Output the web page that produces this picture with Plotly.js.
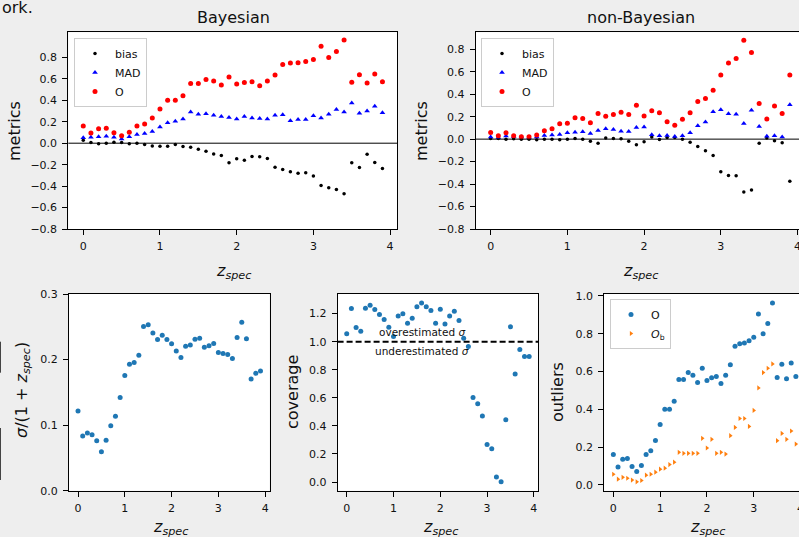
<!DOCTYPE html>
<html>
<head>
<meta charset="utf-8">
<script src="https://cdn.plot.ly/plotly-3.0.1.min.js"></script>
<style>
html,body{margin:0;padding:0;overflow:hidden;background:#eeeeee;}
#chart{width:810px;height:537px;}
</style>
</head>
<body>
<div id="chart"></div>
<script>
// ---- data ----
const zspec = [0.0,0.1,0.2,0.3,0.4,0.5,0.6,0.7,0.8,0.9,1.0,1.1,1.2,1.3,1.4,1.5,1.6,1.7,1.8,1.9,2.0,2.1,2.2,2.3,2.4,2.5,2.6,2.7,2.8,2.9,3.0,3.1,3.2,3.3,3.4,3.5,3.6,3.7,3.8,3.9];

const bayesBias = [0.028,0.006,-0.006,0.0,0.01,0.006,-0.006,0.0,-0.012,-0.025,-0.028,-0.028,-0.012,-0.031,-0.037,-0.056,-0.075,-0.10,-0.115,-0.183,-0.146,-0.158,-0.124,-0.127,-0.143,-0.224,-0.245,-0.267,-0.28,-0.276,-0.307,-0.394,-0.416,-0.432,-0.472,-0.183,-0.227,-0.102,-0.18,-0.236];
const bayesMAD = [0.05,0.055,0.06,0.065,0.055,0.04,0.06,0.08,0.09,0.11,0.15,0.19,0.205,0.225,0.29,0.27,0.275,0.26,0.25,0.24,0.225,0.25,0.235,0.23,0.225,0.26,0.265,0.21,0.22,0.22,0.255,0.235,0.27,0.315,0.29,0.375,0.28,0.30,0.345,0.285];
const bayesO = [0.16,0.095,0.135,0.14,0.097,0.07,0.103,0.16,0.18,0.235,0.32,0.40,0.40,0.443,0.557,0.557,0.595,0.58,0.542,0.617,0.552,0.567,0.573,0.536,0.58,0.636,0.734,0.747,0.751,0.762,0.781,0.904,0.80,0.854,0.962,0.568,0.638,0.561,0.645,0.574];

const nonBias = [0.006,0.006,0.0,0.003,0.0,0.0,-0.006,0.0,0.0,-0.006,0.0,0.006,0.0,-0.018,-0.036,0.009,0.006,0.003,-0.018,-0.05,-0.024,0.02,-0.003,0.015,0.015,0.0,-0.027,-0.065,-0.104,-0.145,-0.29,-0.323,-0.326,-0.471,-0.453,-0.036,0.01,-0.015,-0.033,-0.376];
const nonMAD = [0.02,0.015,0.027,0.024,0.018,0.015,0.02,0.033,0.036,0.041,0.056,0.062,0.065,0.05,0.077,0.092,0.086,0.071,0.068,0.104,0.107,0.039,0.03,0.033,0.024,0.03,0.056,0.119,0.152,0.244,0.261,0.226,0.222,0.14,0.256,0.113,0.025,0.03,0.019,0.307];
const nonO = [0.059,0.03,0.056,0.03,0.021,0.021,0.036,0.074,0.092,0.136,0.142,0.19,0.184,0.145,0.228,0.204,0.219,0.24,0.219,0.302,0.207,0.252,0.234,0.154,0.124,0.178,0.234,0.335,0.361,0.436,0.571,0.678,0.717,0.881,0.772,0.317,0.18,0.296,0.228,0.572];

const sigmaNorm = [0.1216,0.0835,0.088,0.0855,0.076,0.0595,0.077,0.099,0.1135,0.142,0.1756,0.193,0.1954,0.2066,0.2504,0.253,0.2407,0.2305,0.2372,0.2305,0.224,0.213,0.203,0.2204,0.2224,0.231,0.2326,0.2188,0.2209,0.2244,0.2107,0.2092,0.2076,0.2015,0.2336,0.257,0.2316,0.1705,0.179,0.1827];
const coverage = [1.056,1.236,1.101,1.075,1.238,1.26,1.229,1.193,1.158,1.103,1.037,1.184,1.2,1.132,1.167,1.25,1.276,1.25,1.222,1.132,1.231,1.127,1.184,1.217,1.151,1.025,0.966,0.603,0.558,0.47,0.268,0.237,0.036,0.002,0.444,1.106,0.769,0.944,0.894,0.894];
const outO = bayesO;
const outOb = [0.056,0.03,0.04,0.035,0.025,0.016,0.023,0.051,0.056,0.067,0.083,0.088,0.107,0.12,0.172,0.167,0.167,0.167,0.167,0.246,0.195,0.241,0.167,0.172,0.163,0.26,0.304,0.351,0.351,0.309,0.394,0.513,0.594,0.617,0.64,0.234,0.272,0.241,0.285,0.216];

const topTitles = ['Bayesian', 'non-Bayesian'];
const metricNames = ['bias', 'MAD', 'O'];
const outlierNames = ['O', '<i>O</i><sub>b</sub>'];
const metricTicks = [-0.8,-0.6,-0.4,-0.2,0.0,0.2,0.4,0.6,0.8];

// ---- layout helpers ----
const W = 810, H = 537;
const px = v => v / W;
const py = v => 1 - v / H;
const FONT = 'DejaVu Sans, sans-serif';
const TXT = '#111111';

function xax(l, r, anchor) {
  return {domain:[px(l), px(r)], anchor:anchor, range:[-0.195, 4.095], dtick:1, tick0:0,
    tickformat:'d', ticks:'outside', ticklen:5, tickwidth:1, tickcolor:'#000',
    showline:true, mirror:true, linecolor:'#000', linewidth:1, showgrid:false, zeroline:false,
    tickfont:{size:11, color:TXT, family:FONT}, ticklabelstandoff:2};
}
function yax(t, b, anchor, range, dtick, tickvals) {
  const a = {domain:[py(b), py(t)], anchor:anchor, range:range, dtick:dtick, tick0:0,
    tickformat:'.1f', ticks:'outside', ticklen:5, tickwidth:1, tickcolor:'#000',
    showline:true, mirror:true, linecolor:'#000', linewidth:1, showgrid:false, zeroline:false,
    tickfont:{size:11, color:TXT, family:FONT}, ticklabelstandoff:3};
  if (tickvals) { a.tickmode = 'array'; a.tickvals = tickvals; }
  return a;
}

const traces = [
  {x:zspec, y:bayesBias, name:metricNames[0], type:'scatter', mode:'markers', xaxis:'x', yaxis:'y', legend:'legend',
   marker:{color:'#000000', size:3.5}},
  {x:zspec, y:bayesMAD, name:metricNames[1], type:'scatter', mode:'markers', xaxis:'x', yaxis:'y', legend:'legend',
   marker:{color:'#0000ff', size:5, symbol:'triangle-up'}},
  {x:zspec, y:bayesO, name:metricNames[2], type:'scatter', mode:'markers', xaxis:'x', yaxis:'y', legend:'legend',
   marker:{color:'#ff0000', size:5}},
  {x:zspec, y:nonBias, name:metricNames[0], type:'scatter', mode:'markers', xaxis:'x2', yaxis:'y2', legend:'legend2',
   marker:{color:'#000000', size:3.5}},
  {x:zspec, y:nonMAD, name:metricNames[1], type:'scatter', mode:'markers', xaxis:'x2', yaxis:'y2', legend:'legend2',
   marker:{color:'#0000ff', size:5, symbol:'triangle-up'}},
  {x:zspec, y:nonO, name:metricNames[2], type:'scatter', mode:'markers', xaxis:'x2', yaxis:'y2', legend:'legend2',
   marker:{color:'#ff0000', size:5}},
  {x:zspec, y:sigmaNorm, name:'sigma', type:'scatter', mode:'markers', xaxis:'x3', yaxis:'y3', showlegend:false,
   marker:{color:'#1f77b4', size:5}},
  {x:zspec, y:coverage, name:'coverage', type:'scatter', mode:'markers', xaxis:'x4', yaxis:'y4', showlegend:false,
   marker:{color:'#1f77b4', size:5}},
  {x:zspec, y:outO, name:outlierNames[0], type:'scatter', mode:'markers', xaxis:'x5', yaxis:'y5', legend:'legend3',
   marker:{color:'#1f77b4', size:5}},
  {x:zspec, y:outOb, name:outlierNames[1], type:'scatter', mode:'markers', xaxis:'x5', yaxis:'y5', legend:'legend3',
   marker:{color:'#ff7f0e', size:4.5, symbol:'triangle-right'}}
];

const legendStyle = (x, y) => ({x:px(x), y:py(y), xanchor:'left', yanchor:'top', xref:'paper', yref:'paper',
  bgcolor:'rgba(255,255,255,0.85)', bordercolor:'#cccccc', borderwidth:1,
  font:{size:11, color:TXT, family:FONT}, itemwidth:30, tracegroupgap:0});

function ann(text, x, y, size, angle, extra) {
  return Object.assign({text:text, x:px(x), y:py(y), xref:'paper', yref:'paper', showarrow:false,
    xanchor:'center', yanchor:'middle', textangle:angle || 0, font:{size:size, color:TXT, family:FONT}}, extra || {});
}
const zlab = '<i>z</i><sub><i>spec</i></sub>';

const layout = {
  width:W, height:H, margin:{l:0, r:0, t:0, b:0},
  paper_bgcolor:'#eeeeee', plot_bgcolor:'#ffffff',
  font:{family:FONT, color:TXT},
  xaxis: xax(68.3, 397.4, 'y'),
  yaxis: yax(32.3, 229, 'x', [-0.8, 1.034], 0.2, metricTicks),
  xaxis2: xax(475.7, 804.8, 'y2'),
  yaxis2: yax(32.3, 229, 'x2', [-0.8, 0.951], 0.2, metricTicks),
  xaxis3: xax(68.9, 269.6, 'y3'),
  yaxis3: yax(294, 490.7, 'x3', [0, 0.3], 0.1),
  xaxis4: xax(337.6, 538.3, 'y4'),
  yaxis4: yax(294, 490.7, 'x4', [-0.062, 1.34], 0.2),
  xaxis5: xax(604.2, 805, 'y5'),
  yaxis5: yax(294, 490.7, 'x5', [-0.031, 1.01], 0.2),
  legend: legendStyle(74, 38),
  legend2: legendStyle(481, 38),
  legend3: legendStyle(610, 299),
  shapes:[
    {type:'line', xref:'x domain', yref:'y', x0:0, x1:1, y0:0, y1:0, line:{color:'#000', width:1}},
    {type:'line', xref:'x2 domain', yref:'y2', x0:0, x1:1, y0:0, y1:0, line:{color:'#000', width:1}},
    {type:'line', xref:'x4 domain', yref:'y4', x0:0, x1:1, y0:1, y1:1, line:{color:'#000', width:2, dash:'6px,3px'}},
    {type:'line', xref:'paper', yref:'paper', x0:px(0.5), x1:px(0.5), y0:py(341.7), y1:py(372.7), line:{color:'#444', width:1}},
    {type:'line', xref:'paper', yref:'paper', x0:px(0.5), x1:px(0.5), y0:py(428), y1:py(480), line:{color:'#444', width:1}}
  ],
  annotations:[
    ann('ork.', 0, 8, 16, 0, {xanchor:'left'}),
    ann(topTitles[0], 233, 17, 16),
    ann(topTitles[1], 641, 17, 16),
    ann('metrics', 14, 131, 16, -90),
    ann('metrics', 421, 131, 16, -90),
    ann(zlab, 233, 271, 16),
    ann(zlab, 640, 271, 16),
    ann('<i>σ</i>/(1 + ' + zlab + ')', 22, 390, 16, -90),
    ann('coverage', 292, 392, 16, -90),
    ann('outliers', 557, 392, 16, -90),
    ann(zlab, 170, 527, 16),
    ann(zlab, 441, 527, 16),
    ann(zlab, 707, 527, 16),
    {text:'overestimated <i>σ</i>', x:1.6, y:1.068, xref:'x4', yref:'y4', showarrow:false,
     xanchor:'center', yanchor:'middle', font:{size:10.5, color:TXT, family:FONT}},
    {text:'underestimated <i>σ</i>', x:1.6, y:0.935, xref:'x4', yref:'y4', showarrow:false,
     xanchor:'center', yanchor:'middle', font:{size:10.5, color:TXT, family:FONT}}
  ]
};

Plotly.newPlot('chart', traces, layout, {displayModeBar:false, staticPlot:true});
</script>
</body>
</html>
